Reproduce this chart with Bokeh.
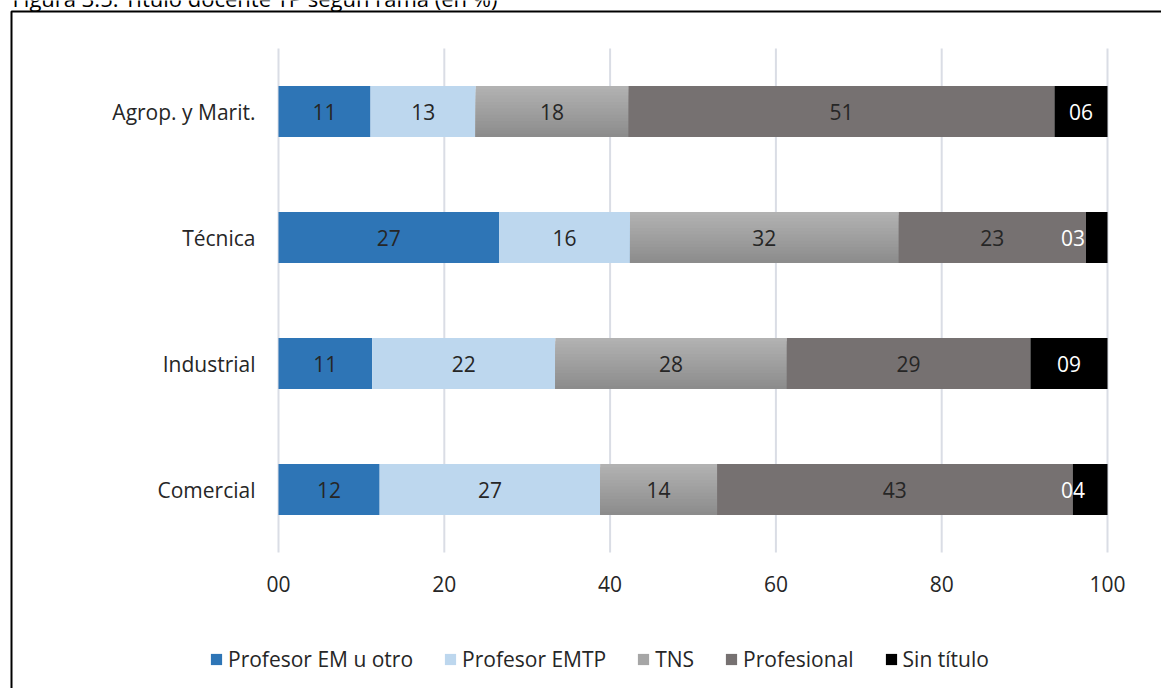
from bokeh.plotting import figure
from bokeh.models import (Range1d, FixedTicker, Legend, LegendItem, Label,
                          BoxAnnotation, ColumnDataSource)
from bokeh.core.properties import value
from bokeh.embed import file_html
from bokeh.resources import INLINE

# Ramas, de arriba hacia abajo
ramas = ["Agrop. y Marit.", "Técnica", "Industrial", "Comercial"]

# Porcentaje de docentes por título
profesor_em = [11.1, 26.6, 11.3, 12.2]
profesor_emtp = [12.7, 15.8, 22.1, 26.6]
tns = [18.4, 32.4, 27.9, 14.1]
profesional = [51.4, 22.6, 29.4, 42.9]
sin_titulo = [6.4, 2.6, 9.3, 4.2]

series_names = ["Profesor EM u otro", "Profesor EMTP", "TNS", "Profesional", "Sin título"]
series_values = [profesor_em, profesor_emtp, tns, profesional, sin_titulo]

x_ticks = [0, 20, 40, 60, 80, 100]
x_tick_labels = ["00", "20", "40", "60", "80", "100"]

title_text = "Figura 3.5: Título docente TP según rama (en %)"

colors = ["#2e75b6", "#bdd7ee", "#a6a6a6", "#767171", "#000000"]
label_colors = ["#262626", "#262626", "#262626", "#262626", "#ffffff"]
tns_top, tns_bottom = (178, 178, 178), (140, 140, 140)

FONT = "Open Sans"
TXT = "#262626"
BAR_H = 0.405

W, H = 1161, 688
# pixel box of the bar area inside the page
PL, PR, PT, PB = 278, 1107, 48, 552

n = len(ramas)
y_pos = [n - 0.5 - i for i in range(n)]

# the frame fills the whole canvas; data ranges put 0..100 and the four
# rows exactly into the bar area
kx = (PR - PL) / 100.0
ky = (PB - PT) / float(n)
x0 = -PL / kx
x1 = 100 + (W - PR) / kx
y0 = -(H - PB) / ky
y1 = n + PT / ky


def px_x(px):
    return x0 + px / kx


def px_y(py):
    return y1 - py / ky


p = figure(width=W, height=H, output_backend="svg", toolbar_location=None,
           x_range=Range1d(x0, x1), y_range=Range1d(y0, y1),
           min_border=0, min_border_left=0, min_border_right=0,
           min_border_top=0, min_border_bottom=0)
p.outline_line_color = None
p.background_fill_color = "white"
p.border_fill_color = "white"
p.grid.visible = False

# vertical grid lines over the bar area
p.segment(x0=x_ticks, x1=x_ticks, y0=[0] * len(x_ticks), y1=[n] * len(x_ticks),
          line_color="#dadde5", line_width=2, level="underlay")

# x axis, drawn at the bottom of the bar area
p.xaxis.fixed_location = 0
p.xaxis.ticker = FixedTicker(ticks=x_ticks)
p.xaxis.major_label_overrides = {t: s for t, s in zip(x_ticks, x_tick_labels)}
p.xaxis.axis_line_color = None
p.xaxis.major_tick_line_color = None
p.xaxis.minor_tick_line_color = None
p.xaxis.major_tick_out = 0
p.xaxis.major_tick_in = 0
p.xaxis.major_label_standoff = 23
p.xaxis.major_label_text_font = FONT
p.xaxis.major_label_text_font_size = "21px"
p.xaxis.major_label_text_color = TXT

# y axis with branch names, at the left edge of the bars
p.yaxis.fixed_location = 0
p.yaxis.ticker = FixedTicker(ticks=y_pos)
p.yaxis.major_label_overrides = {y: r for y, r in zip(y_pos, ramas)}
p.yaxis.axis_line_color = None
p.yaxis.major_tick_line_color = None
p.yaxis.minor_tick_line_color = None
p.yaxis.major_tick_out = 0
p.yaxis.major_tick_in = 0
p.yaxis.major_label_standoff = 23
p.yaxis.major_label_text_font = FONT
p.yaxis.major_label_text_font_size = "21px"
p.yaxis.major_label_text_color = TXT

# stacked bars
lefts = [0.0] * n
legend_items = []
label_x, label_y, label_txt, label_col, label_align = [], [], [], [], []
for k, (name, vals) in enumerate(zip(series_names, series_values)):
    rights = [l + v for l, v in zip(lefts, vals)]
    if name == "TNS":
        # vertical shading, light at the top and darker toward the bottom:
        # each layer is painted from the bar bottom up, so no seams show
        layers = 16
        for s in range(layers):
            t = s / (layers - 1)
            c = tuple(int(round(a + (b - a) * t)) for a, b in zip(tns_top, tns_bottom))
            frac = 1.0 - s / layers
            hgt = BAR_H * frac
            yc = [y - BAR_H / 2 + hgt / 2 for y in y_pos]
            p.hbar(y=yc, left=lefts, right=rights, height=hgt,
                   fill_color="#%02x%02x%02x" % c, line_color=None)
        swatch = p.hbar(y=[-50], left=[0], right=[1], height=0.1,
                        fill_color=colors[k], line_color=None)
        legend_items.append(LegendItem(label=name, renderers=[swatch]))
    else:
        r = p.hbar(y=y_pos, left=lefts, right=rights, height=BAR_H,
                   fill_color=colors[k], line_color=None)
        legend_items.append(LegendItem(label=name, renderers=[r]))
    for i in range(n):
        mid = (lefts[i] + rights[i]) / 2
        if vals[i] < 5:
            label_x.append(97.3)
            label_align.append("right")
        else:
            label_x.append(mid)
            label_align.append("center")
        label_y.append(y_pos[i])
        label_txt.append("%02d" % round(vals[i]))
        label_col.append(label_colors[k])
    lefts = rights

src = ColumnDataSource(dict(x=label_x, y=label_y, t=label_txt, c=label_col, a=label_align))
p.text(x="x", y="y", text="t", text_color="c", text_align="a", source=src,
       text_baseline="middle", text_font=value(FONT), text_font_size="21px")

legend = Legend(items=legend_items, orientation="horizontal", location=(209, 15),
                glyph_width=14, glyph_height=14, label_standoff=5, spacing=30,
                padding=0, margin=0, border_line_color=None,
                background_fill_alpha=0, label_text_font=FONT,
                label_text_font_size="21px", label_text_color=TXT)
p.add_layout(legend, "center")

# frame around the chart (its right and bottom sides lie past the page)
p.add_layout(BoxAnnotation(left=px_x(11), right=px_x(W + 40),
                           top=px_y(11), bottom=px_y(H + 40),
                           fill_alpha=0, line_color="black", line_alpha=1.0,
                           line_width=2))

# caption above the frame, mostly beyond the top of the page
p.add_layout(Label(x=px_x(12), y=px_y(-3), text=title_text,
                   text_baseline="alphabetic", text_font=FONT,
                   text_font_size="22px", text_color="black"))

open("out.html", "w").write(file_html(p, INLINE))
